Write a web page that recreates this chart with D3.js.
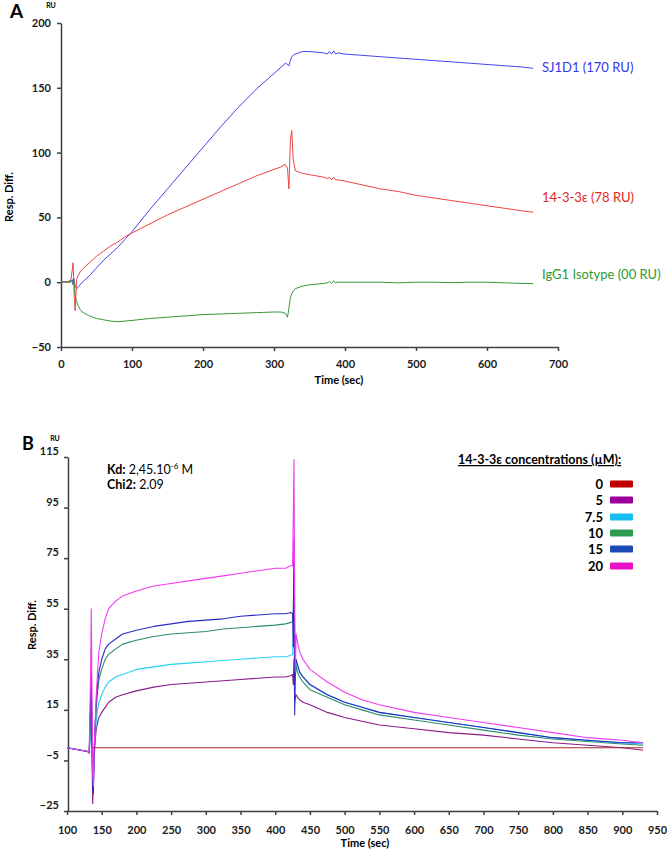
<!DOCTYPE html>
<html><head><meta charset="utf-8">
<script src="https://cdn.jsdelivr.net/npm/d3@7"></script>
<style>body{margin:0;background:#fff}svg{display:block;font-family:Lato,"Open Sans",sans-serif}</style>
</head><body>
<svg id="c" width="667" height="852"></svg>
<script>
// ---------- Panel A data ----------
const timeA = [0,5,10,14,16,17,18,19,20,21,22,24,27,30,40,50,60,70,80,90,100,125,150,175,200,225,250,275,300,310,316,319,321,323,325,327,330,335,340,350,360,370,375,378,381,384,387,390,400,425,450,475,500,525,550,575,600,625,650,665];
const sj1d1 = [0,0.5,0,1,2,-2,3,0,-3,-4,-5,-4,-2,0,5,11,17,22,27,33,39,56,72,88,104,120,135,149,161,166,169,168,167,171,174,175,176,177,178,178,177.5,177,176,178,176,178.5,176,177,176,175,174,173,172,171,170,169,168,167,166,165];
const ywhae = [0,0,0.5,2,10,15,0,-15,-22,-10,2,5,8,10,15,20,24,28,31,35,38,45,52,58,64,70,76,82,87,89,91,88,72,110,117,95,86,85,84,83,82,81,80,81,79,81,79,79,78,75,72,70,67,65,63,61,59,57,55,54];
const igg1 = [0,0,0,0,1,-1,2,-5,-10,-13,-15,-18,-21,-23,-26,-28,-29,-30,-30.5,-30,-29.5,-28,-27,-26,-25,-24.5,-24,-23.5,-23,-23,-24,-27,-20,-12,-9,-7,-5,-4,-3,-2,-1.5,-1,-0.5,0.5,-1,1,-0.5,0,0,0,0,-0.5,0,0,-0.3,0,0,-0.5,-1,-1];
const seriesNamesA = ["SJ1D1 (170 RU)","14-3-3ε (78 RU)","IgG1 Isotype (00 RU)"];
const xTicksA = [0,100,200,300,400,500,600,700];
const yTicksA = [-50,0,50,100,150,200];

// ---------- Panel B data ----------
const timeB = [100,110,120,130,132,134,135,136,137,138,139,140,141,142,144,146,150,155,160,170,180,200,225,250,275,300,325,350,375,400,415,422,425,426,427,428,429,430,432,435,440,450,475,500,525,550,600,650,700,750,800,850,900,930];
const conc0  = [null,null,null,null,null,null,null,null,0,0,0,0,0,0,0,0,0,0,0,0,0,0,0,0,0,0,0,0,0,0,0,0,0,0,0,0,0,0,0,0,0,0,0,0,0,0,0,0,0,0,0,0,0,0];
const conc5  = [0,-0.5,-1,-1.5,-2,15,28,0,-22,-15,-5,0,4,7,10,12,14,16,18,20,21,22.5,24,25,25.5,26,26.5,27,27.5,28,28,28.5,29,25,35,18,20,21,20,19,18,17,14,12,10.5,9,7.5,6,5,3.5,2,1,0,-1];
const conc75 = [0,-0.5,-1,-1.5,-2,5,10,0,-10,-8,-2,2,6,10,15,18,21,24,26,28,29,31,32,33,33.5,34,34.5,35,35.5,36,36,36.5,37,45,60,25,30,33,32,30,28,25,21,18,16,14,12,10,8,6,4,3,2,1.5];
const conc10 = [0,-0.5,-1,-1.5,-2,10,15,0,-12,-10,-3,3,10,15,22,27,31,35,37,39,41,42.5,44,45,45.5,46,47,47.5,48,48.5,49,49.5,50,55,70,30,28,32,30,28,26,23,20,17,15,13,11,9,7,5,3.5,2.5,1.5,1];
const conc15 = [0,-0.5,-1,-1.5,-2,20,30,5,-15,-18,-5,5,12,18,25,30,35,39,41,43,45,46.5,48,49,50,50.5,51,52,52.5,53,53,53.5,53,40,83,13,30,35,33,30,28,25,21,18,16,14,12,10,8,6,4,3,2,2];
const conc20 = [0,-0.5,-1,-1.5,-2,30,55,20,-10,-15,0,5,12,20,30,38,45,51,55,58,60,62,64,65,66,67,68,69,70,71,71,72,72,90,114,60,30,45,42,38,35,31,26,22,19,17,14,12,10,8,6,4,3,2];
const concLabels = ["0","5","7.5","10","15","20"];
const xTicksB = [100,150,200,250,300,350,400,450,500,550,600,650,700,750,800,850,900,950];
const yTicksB = [-25,-5,15,35,55,75,95,115];

const svg = d3.select("#c");
const axisCol = "#404040";

function styleAxis(g){
  g.selectAll("path,line").attr("stroke",axisCol).attr("stroke-width",1.5);
  g.selectAll("text").attr("fill","#1a1a1a").attr("font-weight","bold").attr("font-size",11).attr("font-family","Lato, sans-serif");
}

// ================= Panel A =================
const xA = d3.scaleLinear().domain([0,700]).range([61,558]);
const yA = d3.scaleLinear().domain([-50,200]).range([347,23]);

svg.append("g").attr("transform","translate(0,347)")
  .call(d3.axisBottom(xA).tickValues(xTicksA).tickSize(4).tickSizeOuter(0).tickPadding(9))
  .call(styleAxis);
svg.append("g").attr("transform","translate(61,0)")
  .call(d3.axisLeft(yA).tickValues(yTicksA).tickSize(4).tickSizeOuter(0).tickPadding(6))
  .call(styleAxis);

const seriesA = [
  {v: sj1d1, col:"#4444ee"},
  {v: ywhae, col:"#ee4444"},
  {v: igg1,  col:"#3a963a"}
];
const lineA = d3.line().x((d,i)=>xA(timeA[i])).y(d=>yA(d));
seriesA.forEach(s=>{
  svg.append("path").datum(s.v).attr("d",lineA).attr("fill","none")
    .attr("stroke",s.col).attr("stroke-width",1).attr("stroke-linejoin","round");
});
const labA = [{t:seriesNamesA[0],y:72,c:"#3535e8"},{t:seriesNamesA[1],y:202,c:"#e52525"},{t:seriesNamesA[2],y:279,c:"#2f9a2f"}];
labA.forEach(l=>svg.append("text").attr("x",542).attr("y",l.y).attr("fill",l.c).attr("font-size",13).text(l.t));

svg.append("text").attr("x",10).attr("y",18).attr("font-size",19).attr("font-weight","bold").text("A");
svg.append("text").attr("x",51).attr("y",8).attr("font-size",7).attr("font-weight","bold").attr("text-anchor","middle").text("RU");
svg.append("text").attr("transform","translate(13,197) rotate(-90)").attr("text-anchor","middle")
  .attr("font-size",11).attr("font-weight","bold").text("Resp. Diff.");
svg.append("text").attr("x",339).attr("y",384).attr("text-anchor","middle")
  .attr("font-size",11).attr("font-weight","bold").text("Time (sec)");

// ================= Panel B =================
const xB = d3.scaleLinear().domain([100,950]).range([67,657]);
const yB = d3.scaleLinear().domain([-25,115]).range([811,457]);

svg.append("g").attr("transform","translate(0,811)")
  .call(d3.axisBottom(xB).tickValues(xTicksB).tickSize(4).tickSizeOuter(0).tickPadding(11))
  .call(styleAxis);
const gyB = svg.append("g").attr("transform","translate(68,0)")
  .call(d3.axisLeft(yB).tickValues(yTicksB).tickSize(4).tickSizeOuter(0).tickPadding(5))
  .call(styleAxis);
gyB.selectAll(".tick text").attr("dy","-0.2em");

const seriesB = [
  {v: conc0,  col:"#a52a2a"},
  {v: conc5,  col:"#8a1a8a"},
  {v: conc75, col:"#2ad0f5"},
  {v: conc10, col:"#2e8b6a"},
  {v: conc15, col:"#2a2ac0"},
  {v: conc20, col:"#f03cf0"}
];
const lineB = d3.line().defined(d=>d!==null).x((d,i)=>xB(timeB[i])).y(d=>yB(d));
// draw order: baseline first, then others
[1,2,3,4,5,0].forEach(k=>{
  const s = seriesB[k];
  svg.append("path").datum(s.v).attr("d",lineB).attr("fill","none")
    .attr("stroke",s.col).attr("stroke-width",1.1).attr("stroke-linejoin","round");
});

svg.append("text").attr("x",22).attr("y",450).attr("font-size",18).attr("font-weight","bold").text("B");
svg.append("text").attr("x",55).attr("y",441).attr("font-size",7).attr("font-weight","bold").attr("text-anchor","middle").text("RU");
svg.append("text").attr("transform","translate(36,625) rotate(-90)").attr("text-anchor","middle")
  .attr("font-size",11).attr("font-weight","bold").text("Resp. Diff.");
svg.append("text").attr("x",365).attr("y",847).attr("text-anchor","middle")
  .attr("font-size",11).attr("font-weight","bold").text("Time (sec)");

const kd = svg.append("text").attr("x",107).attr("y",474).attr("font-size",12.5);
kd.append("tspan").attr("font-weight","bold").text("Kd:");
kd.append("tspan").text(" 2,45.10");
kd.append("tspan").attr("font-size",8).attr("dy",-5).text("-6");
kd.append("tspan").attr("dy",5).text(" M");
const chi = svg.append("text").attr("x",107).attr("y",489).attr("font-size",12.5);
chi.append("tspan").attr("font-weight","bold").text("Chi2:");
chi.append("tspan").text(" 2.09");

// legend B
const legT = svg.append("text").attr("x",458).attr("y",464).attr("font-size",12.5).attr("font-weight","bold")
  .attr("text-decoration","underline").text("14-3-3ε concentrations (µM):");
const legCols = ["#c00000","#9b009b","#16bdf0","#2e9a50","#1c4bb8","#e811c4"];
const legY = [484,500,517,533,549,566];
concLabels.forEach((c,i)=>{
  svg.append("text").attr("x",603).attr("y",legY[i]+5).attr("text-anchor","end")
    .attr("font-size",13).attr("font-weight","bold").text(c);
  svg.append("rect").attr("x",610).attr("y",legY[i]-3.5).attr("width",23).attr("height",7)
    .attr("rx",1).attr("fill",legCols[i]);
});
</script>
</body></html>
